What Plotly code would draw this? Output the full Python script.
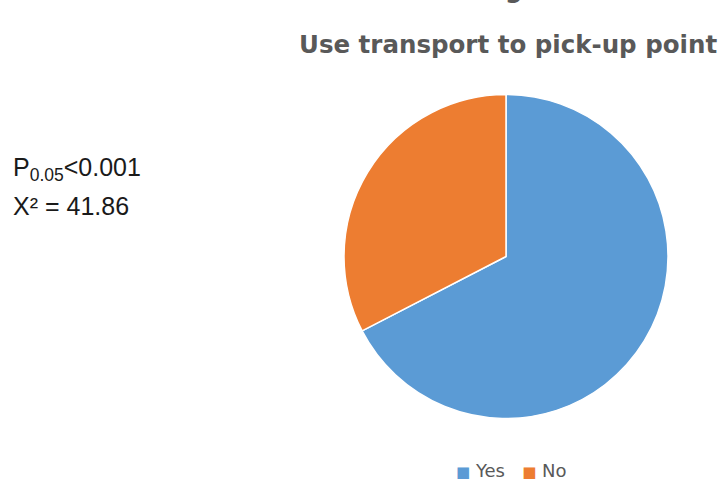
import plotly.graph_objects as go

# Share of respondents who use transport to reach the pick-up point (%)
labels = ["Yes", "No"]
shares = [67.4, 32.6]
colors = ["#5B9BD5", "#ED7D31"]

title_text = "Use transport to pick-up point"
stat_lines = ["P<sub>0.05</sub><0.001", "X² = 41.86"]

W, H = 718, 481

fig = go.Figure(
    go.Pie(
        labels=labels,
        values=shares,
        marker=dict(colors=colors, line=dict(color="white", width=1.5)),
        sort=False,
        direction="clockwise",
        rotation=0,
        textinfo="none",
        hoverinfo="label+percent",
        showlegend=False,
        domain=dict(x=[344 / W, 668 / W], y=[1 - 419 / H, 1 - 94 / H]),
    )
)

annotations = [
    # title
    dict(
        text="<b>" + title_text + "</b>",
        x=508 / W, y=1 - 45 / H, xref="paper", yref="paper",
        xanchor="center", yanchor="middle", showarrow=False,
        font=dict(family="DejaVu Sans", size=24.5, color="#595959"),
    ),
    # descender of a heading line above the frame
    dict(
        text="<b>g</b>",
        x=514 / W, y=1 - 6 / H, xref="paper", yref="paper",
        xanchor="center", yanchor="bottom", showarrow=False,
        font=dict(family="DejaVu Sans", size=24.5, color="#595959"),
    ),
]
for i, line in enumerate(stat_lines):
    annotations.append(
        dict(
            text=line,
            x=11 / W, y=1 - (169 + 37 * i) / H, xref="paper", yref="paper",
            xanchor="left", yanchor="middle", showarrow=False,
            font=dict(family="Liberation Sans", size=25, color="#1a1a1a"),
        )
    )

# legend row: coloured square followed by the category name
legend_parts = [
    "<span style='color:%s;font-size:15px'>■</span> %s" % (c, l)
    for l, c in zip(labels, colors)
]
annotations.append(
    dict(
        text="   ".join(legend_parts),
        x=511 / W, y=1 - 470 / H, xref="paper", yref="paper",
        xanchor="center", yanchor="middle", showarrow=False,
        font=dict(family="DejaVu Sans", size=18, color="#595959"),
    )
)

fig.update_layout(
    width=W,
    height=H,
    margin=dict(l=0, r=0, t=0, b=0),
    paper_bgcolor="white",
    plot_bgcolor="white",
    showlegend=False,
    annotations=annotations,
)

fig.write_html("out.html")
